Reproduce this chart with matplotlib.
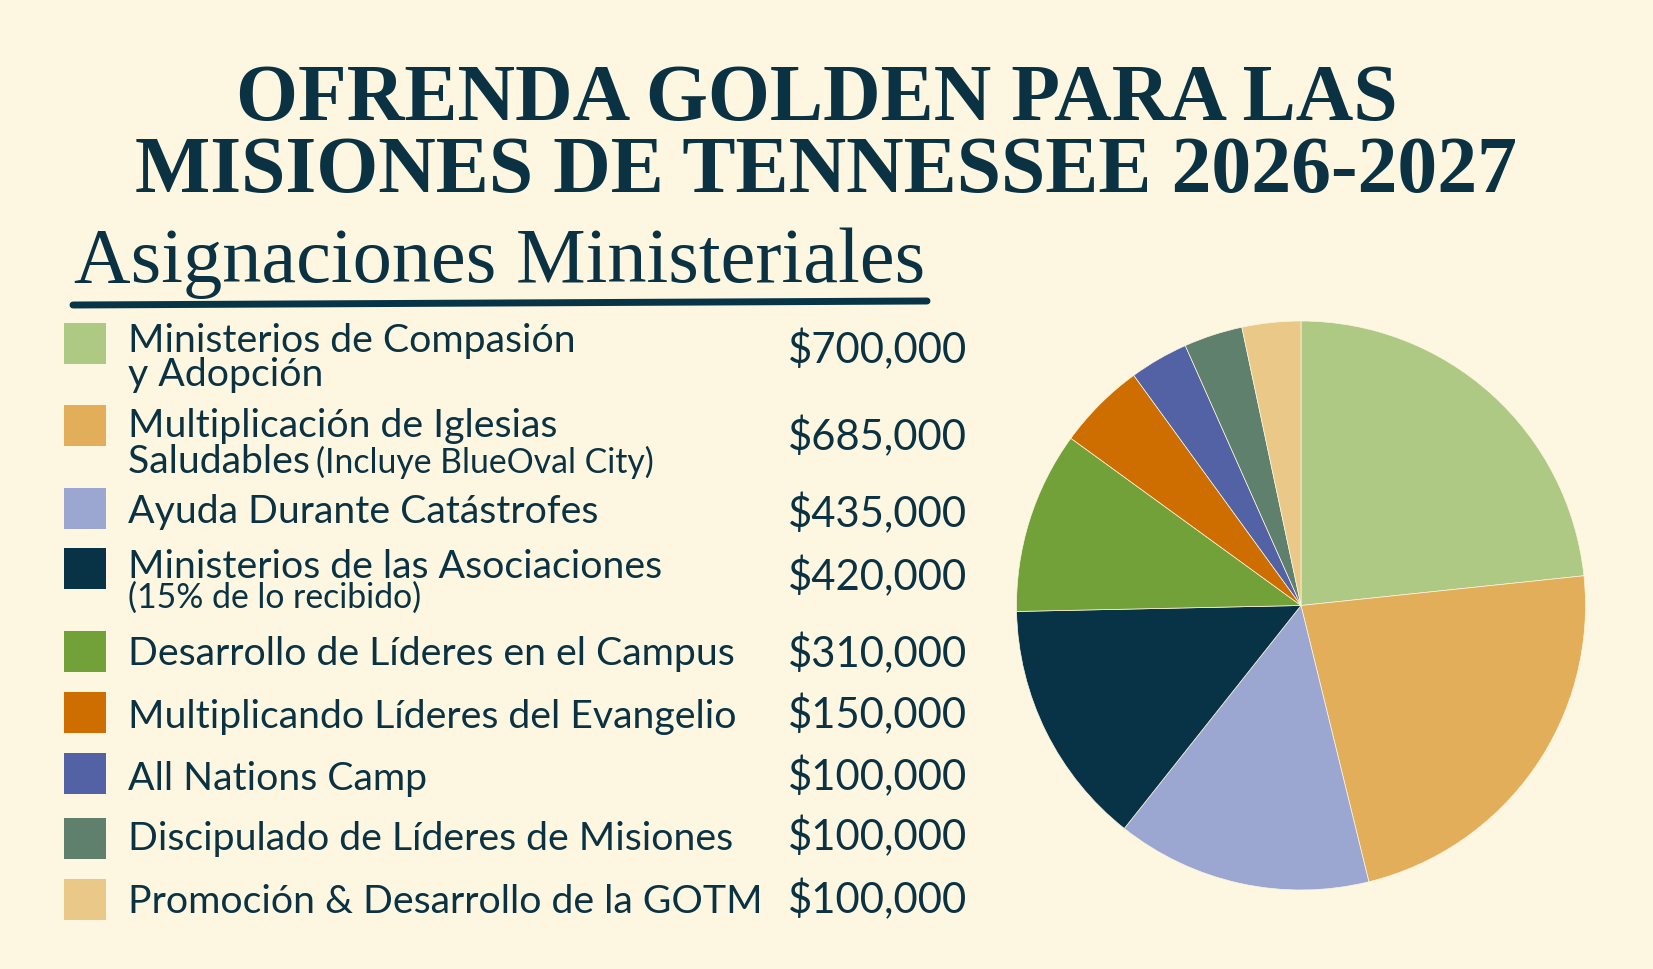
import numpy as np
import matplotlib.pyplot as plt

# allocations (USD)
labels_main = ["Ministerios de Compasión", "Multiplicación de Iglesias", "Ayuda Durante Catástrofes",
               "Ministerios de las Asociaciones", "Desarrollo de Líderes en el Campus",
               "Multiplicando Líderes del Evangelio", "All Nations Camp",
               "Discipulado de Líderes de Misiones", "Promoción & Desarrollo de la GOTM"]
labels_second = ["y Adopción", "Saludables", "", "", "", "", "", "", ""]
labels_note = ["", "(Incluye BlueOval City)", "", "(15% de lo recibido)", "", "", "", "", ""]
amounts = [700000, 685000, 435000, 420000, 310000, 150000, 100000, 100000, 100000]
colors = ["#AEC984", "#E2AE59", "#9BA7D0", "#083346", "#73A139",
          "#CE6E00", "#5362A4", "#5E806D", "#EAC888"]

title_lines = ["OFRENDA GOLDEN PARA LAS", "MISIONES DE TENNESSEE 2026-2027"]
subtitle = "Asignaciones Ministeriales"

BG = "#FDF6E0"
INK = "#0A3242"
W, H = 1653, 969

fig = plt.figure(figsize=(W / 100, H / 100), dpi=100, facecolor=BG)
ax = fig.add_axes([0, 0, 1, 1])
ax.set_xlim(0, W)
ax.set_ylim(H, 0)
ax.axis("off")
renderer = fig.canvas.get_renderer()


def text_width(t):
    bb = t.get_window_extent(renderer)
    return bb.width


def fit(t, target):
    # rescale font so the drawn string spans target pixels
    t.set_fontsize(t.get_fontsize() * target / text_width(t))


# title
serif = ["Liberation Serif", "DejaVu Serif"]
t2 = ax.text(826, 192, title_lines[1], ha="center", va="baseline", fontsize=60,
             family=serif, weight="bold", color=INK)
fit(t2, 1383)
t1 = ax.text(817, 120, title_lines[0], ha="center", va="baseline",
             fontsize=t2.get_fontsize(), family=serif, weight="bold", color=INK)

st = ax.text(74, 282, subtitle, ha="left", va="baseline", fontsize=58,
             family=serif, color=INK)
fit(st, 850)
ax.plot([73, 927], [305, 301], color="#073447", lw=5, solid_capstyle="round")

# legend rows
sans = ["Lato", "DejaVu Sans"]
fs = 28.3
sq_top = [323, 405, 488, 548, 631, 692, 753, 818, 879]
base1 = [352, 437, 523, 578, 665, 728, 790, 850, 913]
base_val = [363, 450, 527, 590, 667, 728, 790, 850, 913]
for i in range(len(amounts)):
    ax.add_patch(plt.Rectangle((64, sq_top[i]), 42, 41, color=colors[i], lw=0))
    ax.text(128, base1[i], labels_main[i], ha="left", va="baseline", fontsize=fs,
            family=sans, color=INK)
    y2 = base1[i] + 34 if i == 0 else base1[i] + 36
    x2 = 128
    if labels_second[i]:
        ts = ax.text(x2, y2, labels_second[i] + " ", ha="left", va="baseline",
                     fontsize=fs, family=sans, color=INK)
        x2 += text_width(ts) - 4
    if labels_note[i]:
        if not labels_second[i]:
            y2 = base1[i] + 30
        ax.text(x2, y2, labels_note[i], ha="left", va="baseline", fontsize=fs * 0.86,
                family=sans, color=INK)
    ax.text(967, base_val[i], f"${amounts[i]:,}", ha="right", va="baseline",
            fontsize=fs + 1.8, family=sans, color=INK)

# pie
cx, cy, r = 1301, 605.5, 284.5
pax = fig.add_axes([(cx - r) / W, 1 - (cy + r) / H, 2 * r / W, 2 * r / H])
pax.pie(amounts, colors=colors, startangle=90, counterclock=False,
        wedgeprops=dict(edgecolor=BG, linewidth=0.5))
pax.set_xlim(-1, 1)
pax.set_ylim(-1, 1)
pax.set_aspect("equal")
pax.axis("off")

plt.savefig("out.png", dpi=100, facecolor=BG)
